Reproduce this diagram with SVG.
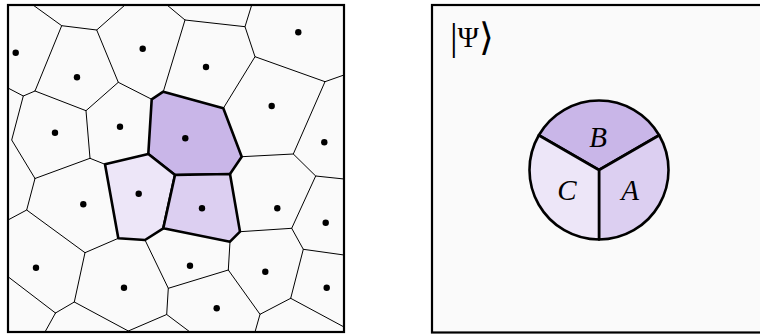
<svg xmlns="http://www.w3.org/2000/svg" width="760" height="334" viewBox="0 0 760 334">
<style>
.frame{fill:#fafafa;stroke:#000;stroke-width:2.2}
.e{stroke:#000;stroke-width:1;fill:none;stroke-linecap:round}
.cell{stroke:#000;stroke-width:2.6;stroke-linejoin:round}
.cb{fill:#c9b6e8}
.ca{fill:#dccff1}
.cc{fill:#ede6f8}
.dot{fill:#000}
.sec{stroke:#000;stroke-width:2.6;stroke-linejoin:round}
.lab{font-family:"Liberation Serif","DejaVu Serif",serif;font-style:italic;font-size:29px;text-anchor:middle;fill:#000}
.ket{font-family:"Liberation Serif","DejaVu Serif",serif;font-size:29px;fill:#000}
</style>
<rect width="760" height="334" fill="#fff"/>
<g id="left-panel">
<rect class="frame" x="8" y="5" width="336" height="327"/>
<g id="connectors">
<path class="e" d="M33,5 L61.7,25.7 L96.7,30 L125,5 M61.7,25.7 L35,91 L23.3,96 L8,88 M23.3,96 L11.7,140 L35,178.5 M35,91 L86,110.7 L118.3,82.3 L151.7,99.3 M118.3,82.3 L96.7,30 M86,110.7 L90,158.3 L105,164.3 M90,158.3 L35,178.5 M167,5 L185,20 L245,26.7 L251.7,5 M245,26.7 L255,56.7 L325,81.7 L344,75 M185,20 L163.3,91.7 M255,56.7 L223.3,108.3 M325,81.7 L293.3,154 L241.7,156.7 M293.3,154 L315.7,176 L344,179 M315.7,176 L291.7,228.3 L240,231.7 M291.7,228.3 L303.3,249.3 L344,255 M303.3,249.3 L290.7,298.3 L344,327 M290.7,298.3 L260,314.3 L255,332 M260,314.3 L228.3,270 L230,241.7 M228.3,270 L168.3,288.3 L145,240 M168.3,288.3 L166.7,314.5 L128.3,331 M166.7,314.5 L190,332 M35,178.5 L26.7,210 L8,220 M26.7,210 L85,252.7 L118.3,238.3 M85,252.7 L74.3,302 L55.5,313 M74.3,302 L128.3,331 M55.5,313 L45,332 M55.5,313 L8,276.7"/>
</g>
<g id="cell-B"><polygon class="cell cb" points="151.7,99.3 163.3,91.7 223.3,108.3 241.7,156.7 230,174 175,175 148.3,154"/></g>
<g id="cell-C"><polygon class="cell cc" points="105,164.3 148.3,154 175,175 163.3,228.3 145,240 118.3,238.3"/></g>
<g id="cell-A"><polygon class="cell ca" points="175,175 230,174 240,231.7 230,241.7 163.3,228.3"/></g>
<g id="sites">
<circle class="dot" cx="15.7" cy="52.7" r="3.2"/>
<circle class="dot" cx="77" cy="77.3" r="3.2"/>
<circle class="dot" cx="142.7" cy="48.7" r="3.2"/>
<circle class="dot" cx="298.3" cy="32.3" r="3.2"/>
<circle class="dot" cx="206" cy="67" r="3.2"/>
<circle class="dot" cx="271.7" cy="106" r="3.2"/>
<circle class="dot" cx="324.3" cy="142.3" r="3.2"/>
<circle class="dot" cx="55" cy="132.7" r="3.2"/>
<circle class="dot" cx="120" cy="126.7" r="3.2"/>
<circle class="dot" cx="185.3" cy="138.3" r="3.2"/>
<circle class="dot" cx="83.3" cy="204.3" r="3.2"/>
<circle class="dot" cx="138.7" cy="193.7" r="3.2"/>
<circle class="dot" cx="202" cy="208.3" r="3.2"/>
<circle class="dot" cx="277.3" cy="208.3" r="3.2"/>
<circle class="dot" cx="325.7" cy="222.7" r="3.2"/>
<circle class="dot" cx="36" cy="267.7" r="3.2"/>
<circle class="dot" cx="124" cy="287.7" r="3.2"/>
<circle class="dot" cx="190" cy="265.7" r="3.2"/>
<circle class="dot" cx="265.3" cy="271.7" r="3.2"/>
<circle class="dot" cx="326.7" cy="287.7" r="3.2"/>
<circle class="dot" cx="216.7" cy="308.3" r="3.2"/>
</g>
</g>
<g id="right-panel">
<rect class="frame" x="432" y="5" width="340" height="327.5"/>
<g id="ket"><text class="ket" x="450" y="46.5"><tspan font-size="38" dy="3">|</tspan><tspan dy="-3">Ψ</tspan><tspan font-size="38" dy="3">⟩</tspan></text></g>
<g id="region-B"><path class="sec cb" d="M599,170 L538.8,135.25 A69.5,69.5 0 0 1 659.2,135.25 Z"/><text class="lab" x="598" y="147">B</text></g>
<g id="region-A"><path class="sec ca" d="M599,170 L659.2,135.25 A69.5,69.5 0 0 1 599,239.5 Z"/><text class="lab" x="630" y="200">A</text></g>
<g id="region-C"><path class="sec cc" d="M599,170 L599,239.5 A69.5,69.5 0 0 1 538.8,135.25 Z"/><text class="lab" x="567" y="200">C</text></g>
</g>
</svg>
